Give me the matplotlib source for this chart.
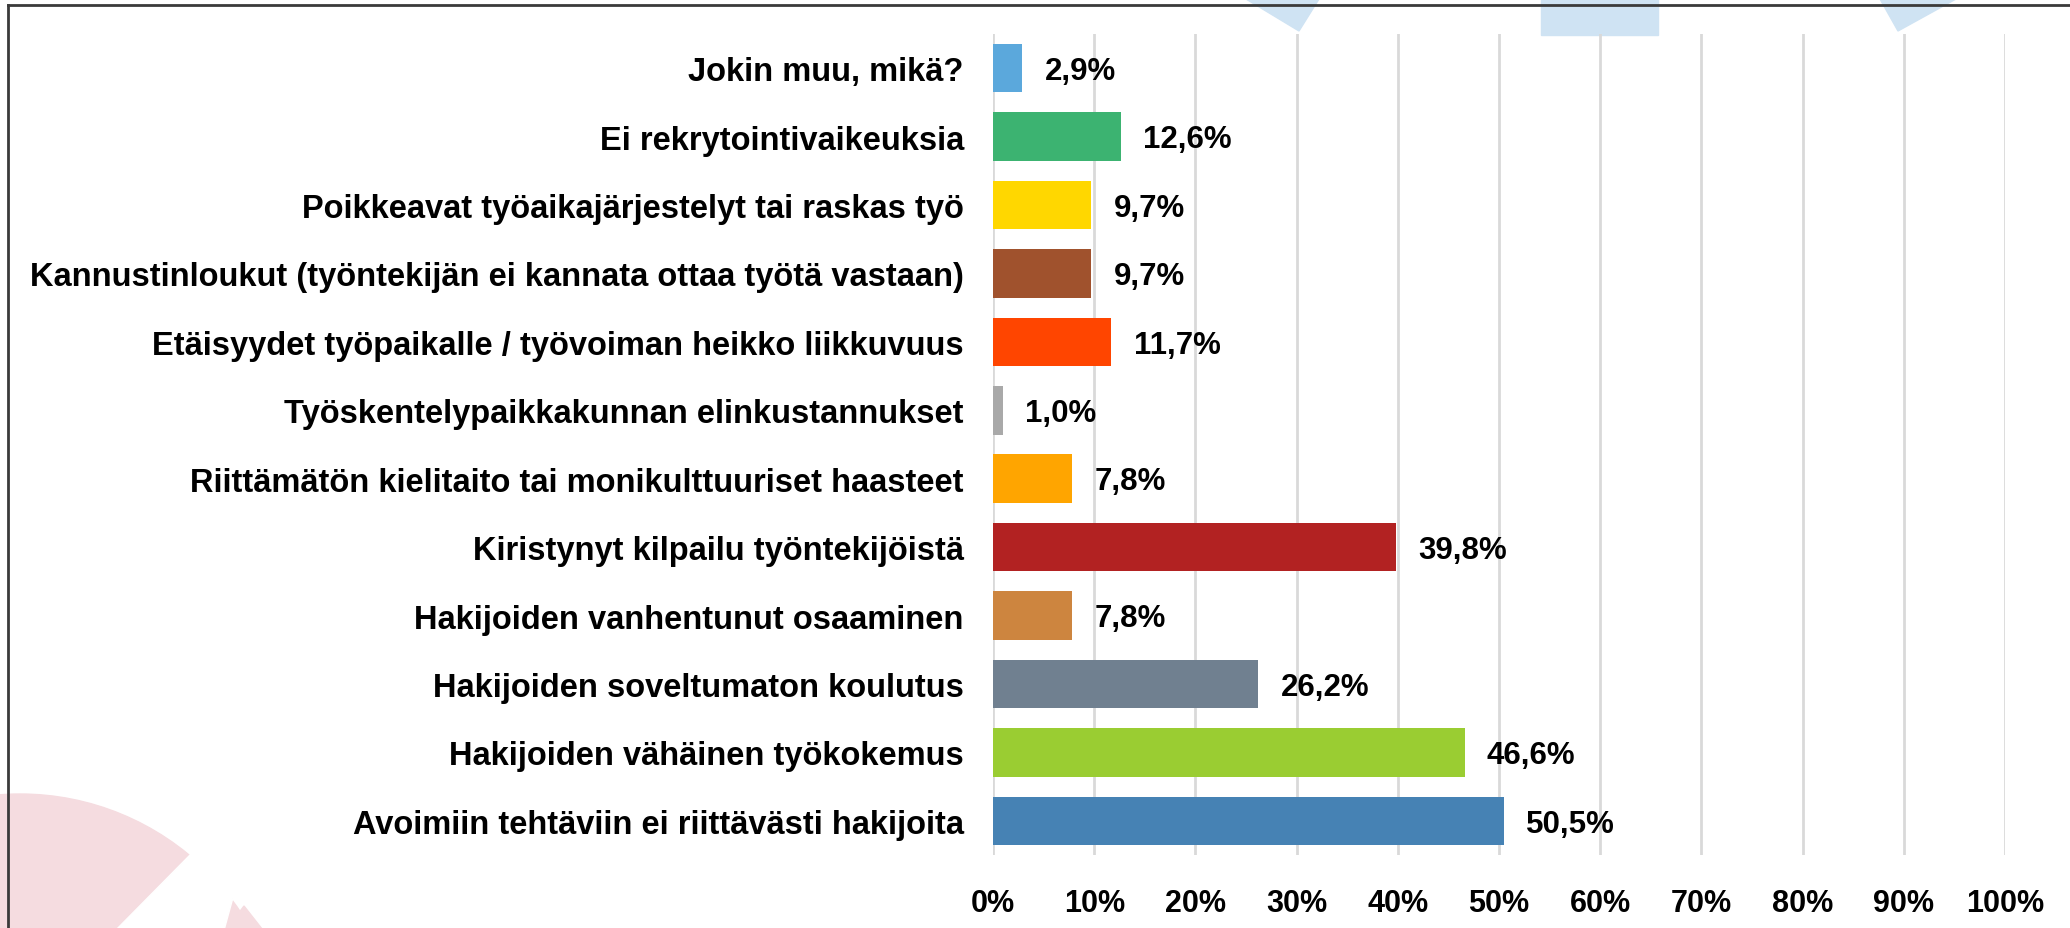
import matplotlib
matplotlib.use("Agg")
import matplotlib.pyplot as plt
from matplotlib.patches import Ellipse, Polygon
from matplotlib.lines import Line2D
from matplotlib.ticker import FuncFormatter

# data, listed top to bottom as in the chart
categories = [
    "Jokin muu, mikä?",
    "Ei rekrytointivaikeuksia",
    "Poikkeavat työaikajärjestelyt tai raskas työ",
    "Kannustinloukut (työntekijän ei kannata ottaa työtä vastaan)",
    "Etäisyydet työpaikalle / työvoiman heikko liikkuvuus",
    "Työskentelypaikkakunnan elinkustannukset",
    "Riittämätön kielitaito tai monikulttuuriset haasteet",
    "Kiristynyt kilpailu työntekijöistä",
    "Hakijoiden vanhentunut osaaminen",
    "Hakijoiden soveltumaton koulutus",
    "Hakijoiden vähäinen työkokemus",
    "Avoimiin tehtäviin ei riittävästi hakijoita",
]
values = [2.9, 12.6, 9.7, 9.7, 11.7, 1.0, 7.8, 39.8, 7.8, 26.2, 46.6, 50.5]
bar_colors = [
    "#5BA8DC", "#3CB371", "#FFD700", "#A0522D", "#FF4500", "#A9A9A9",
    "#FFA500", "#B22222", "#CD853F", "#708090", "#9ACD32", "#4682B4",
]
x_ticks = list(range(0, 101, 10))

W, H = 2070, 929
plt.rcParams["font.family"] = ["Liberation Sans", "DejaVu Sans"]
plt.rcParams["font.weight"] = "bold"


def fx(x, y):
    # pixel (from top-left) -> figure fraction
    return (x / W, 1 - y / H)


fig = plt.figure(figsize=(W / 100, H / 100), dpi=100)
fig.patch.set_facecolor("white")

# background decoration
pink = "#F5DCE0"
blue = "#CFE3F3"
ft = fig.transFigure
fig.patches.append(Ellipse(fx(20, 1060), 2 * 265 / W, 2 * 265 / H, transform=ft,
                           color=pink, zorder=-5))
fig.patches.append(Polygon([fx(191, 855), fx(112, 935), fx(223, 935), fx(260, 800)],
                           transform=ft, color="white", zorder=-4))
fig.patches.append(Polygon([fx(244, 907), fx(223, 935), fx(266, 935)],
                           transform=ft, color=pink, zorder=-3))
fig.patches.append(Polygon([fx(1246, 0), fx(1319, 0), fx(1299, 32)],
                           transform=ft, color=blue, zorder=-5))
fig.patches.append(Polygon([fx(1541, 0), fx(1658, 0), fx(1658, 36), fx(1541, 36)],
                           transform=ft, color=blue, zorder=-5))
fig.patches.append(Polygon([fx(1880, 0), fx(1956, 0), fx(1898, 32)],
                           transform=ft, color=blue, zorder=-5))
# frame
fig.lines.append(Line2D([8 / W, 1], [1 - 6 / H, 1 - 6 / H], transform=ft, color="#3a3a3a", lw=2))
fig.lines.append(Line2D([8 / W, 8 / W], [0, 1 - 6 / H], transform=ft, color="#3a3a3a", lw=2))

ax = fig.add_axes([993 / W, (H - 856) / H, (2005 - 993) / W, (856 - 35) / H])
ax.patch.set_alpha(0)

y = list(range(len(categories)))
ax.barh(y, values, height=0.71, color=bar_colors, zorder=3)
for yi, v in zip(y, values):
    ax.text(v + 2.2, yi + 0.04, f"{v:.1f}%".replace(".", ","), va="center", ha="left",
            fontsize=22.5, fontweight="bold", color="black", zorder=4)

ax.set_ylim(len(categories) - 0.5, -0.5)
ax.set_xlim(0, 100)
ax.set_yticks(y)
ax.set_yticklabels(categories, fontsize=23.5, fontweight="bold")
ax.set_xticks(x_ticks)
ax.xaxis.set_major_formatter(FuncFormatter(lambda v, p: f"{v:.0f}%"))
for lab in ax.get_xticklabels():
    lab.set_fontsize(22)
    lab.set_fontweight("bold")
ax.tick_params(axis="y", length=0, pad=21)
ax.tick_params(axis="x", length=0, pad=24)
ax.grid(axis="x", color="#D9D9D9", lw=2, zorder=0)
for s in ax.spines.values():
    s.set_visible(False)

fig.savefig("out.png", dpi=100)
